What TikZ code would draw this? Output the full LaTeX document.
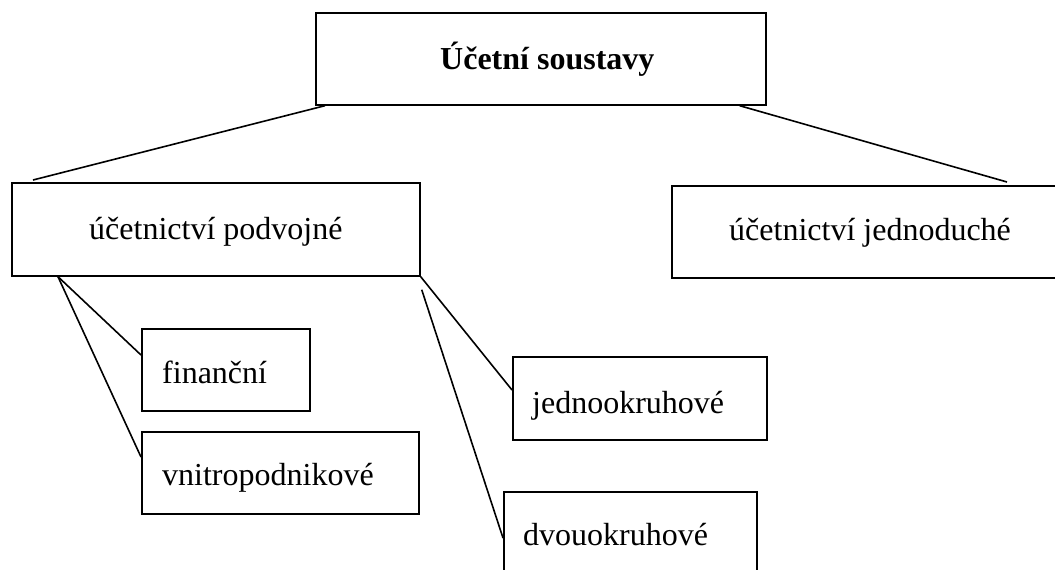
\documentclass[tikz,border=0pt]{standalone}
\usepackage{fontspec}
\setmainfont{Liberation Serif}
\tikzset{
  box/.style={draw=black, line width=1.7pt, rectangle, inner sep=0pt, anchor=north west, fill=none},
  lbl/.style={anchor=base west, inner sep=0pt, font=\fontsize{32}{38}\selectfont},
  conn/.style={draw=black, line width=1.6pt}
}
\begin{document}
\begin{tikzpicture}[x=1pt, y=-1pt]
\useasboundingbox (0,0) rectangle (1055,570);
% boxes
\node[box, minimum width=450pt, minimum height=92pt] (top) at (315,12) {};
\node[box, minimum width=408pt, minimum height=93pt] (pod) at (11,182) {};
\node[box, minimum width=395pt, minimum height=92pt] (jed) at (671,185) {};
\node[box, minimum width=168pt, minimum height=82pt] (fin) at (141,328) {};
\node[box, minimum width=277pt, minimum height=82pt] (vni) at (141,431) {};
\node[box, minimum width=254pt, minimum height=83pt] (jok) at (512,356) {};
\node[box, minimum width=253pt, minimum height=83pt] (dok) at (503,491) {};
% texts
\node[lbl, font=\fontsize{32}{38}\selectfont\bfseries] (ttop) at (440,69) {Účetní soustavy};
\node[lbl] (tpod) at (89,239) {účetnictví podvojné};
\node[lbl] (tjed) at (729,240) {účetnictví jednoduché};
\node[lbl] (tfin) at (162,383) {finanční};
\node[lbl] (tvni) at (162,485) {vnitropodnikové};
\node[lbl] (tjok) at (532,413) {jednookruhové};
\node[lbl] (tdok) at (523,545) {dvouokruhové};
% connectors
\coordinate (c1) at ([xshift=10pt]top.south west);
\coordinate (c2) at ([xshift=22pt,yshift=2pt]pod.north west);
\coordinate (c3) at ([xshift=-27pt]top.south east);
\coordinate (c4) at ([xshift=336pt,yshift=3pt]jed.north west);
\coordinate (p1) at ([xshift=47pt]pod.south west);
\coordinate (f1) at ([yshift=-27pt]fin.north west);
\coordinate (v1) at ([yshift=-26pt]vni.north west);
\coordinate (j1) at ([yshift=-34pt]jok.north west);
\coordinate (p2) at ([xshift=1pt,yshift=-13pt]pod.south east);
\coordinate (d1) at ([yshift=-47pt]dok.north west);
\draw[conn] (c1) -- (c2);
\draw[conn] (c3) -- (c4);
\draw[conn] (p1) -- (f1);
\draw[conn] (p1) -- (v1);
\draw[conn] (pod.south east) -- (j1);
\draw[conn] (p2) -- (d1);
\end{tikzpicture}
\end{document}
